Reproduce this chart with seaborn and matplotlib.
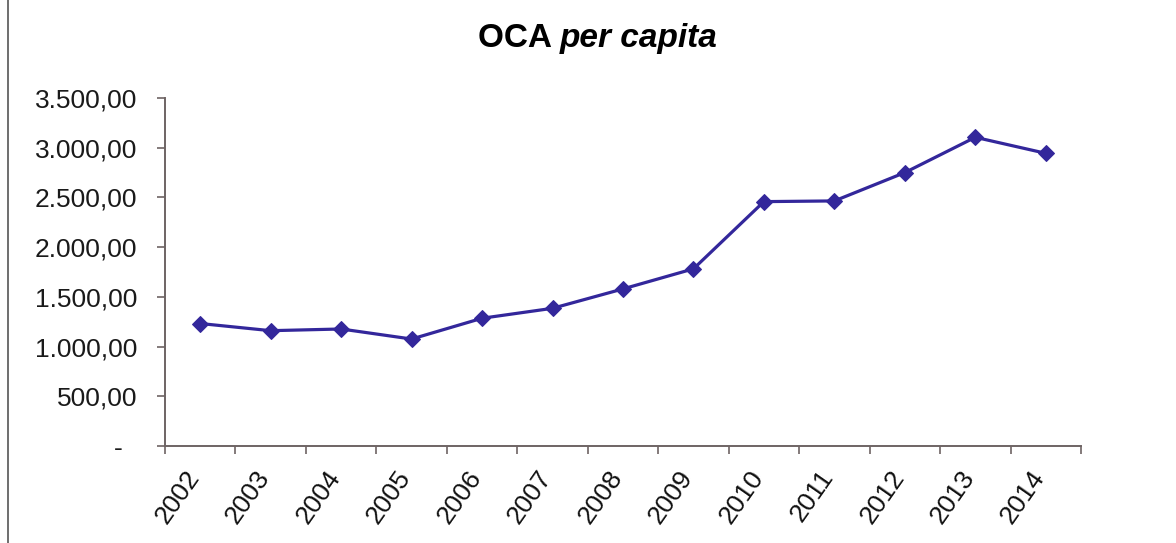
import numpy as np
import pandas as pd
import seaborn as sns
import matplotlib.pyplot as plt
from matplotlib.ticker import FixedLocator, FuncFormatter
from matplotlib.lines import Line2D

sns.set_theme(style="white")
plt.rcParams['font.family'] = ['Liberation Sans', 'DejaVu Sans']

years = ['2002', '2003', '2004', '2005', '2006', '2007', '2008',
         '2009', '2010', '2011', '2012', '2013', '2014']
oca_per_capita = [1232, 1160, 1177, 1076, 1285, 1385, 1580,
                  1782, 2458, 2465, 2750, 3105, 2944]
y_ticks = [0, 500, 1000, 1500, 2000, 2500, 3000, 3500]

df = pd.DataFrame({'Ano': years, 'OCA': oca_per_capita})


def br_fmt(v, pos):
    # 3500 -> 3.500,00 ; zero shown as a dash (accounting style)
    if v == 0:
        return '-  '
    s = f'{v:,.2f}'
    return s.replace(',', 'X').replace('.', ',').replace('X', '.')


fig = plt.figure(figsize=(11.76, 5.43), dpi=100)
ax = fig.add_axes([0.1403, 0.1786, 0.7789, 0.6409])

sns.lineplot(data=df, x='Ano', y='OCA', ax=ax, color='#33279b',
             marker='D', markersize=8.5, linewidth=2.3,
             markeredgecolor='#33279b', sort=False)

ax.set_xlim(-0.5, len(years) - 0.5)
ax.set_ylim(0, 3500)
ax.yaxis.set_major_locator(FixedLocator(y_ticks))
ax.yaxis.set_major_formatter(FuncFormatter(br_fmt))

ax.set_xticks(range(len(years)))
ax.set_xticklabels(years, rotation=55, ha='right', va='baseline',
                   rotation_mode='anchor')
ax.set_xticks(np.arange(-0.5, len(years)), minor=True)

ax.tick_params(axis='y', which='major', left=True, length=6, width=1.2,
               color='#6e6464', labelsize=19, pad=14, labelcolor='#1a1a1a')
ax.tick_params(axis='x', which='major', bottom=False, length=0,
               labelsize=19, pad=22, labelcolor='#111111')
ax.tick_params(axis='x', which='minor', bottom=True, length=6, width=1.2,
               color='#6e6464')

for side in ['top', 'right']:
    ax.spines[side].set_visible(False)
for side in ['left', 'bottom']:
    ax.spines[side].set_color('#6e6464')
    ax.spines[side].set_linewidth(1.4)

ax.set_xlabel('')
ax.set_ylabel('')

fig.text(0.476, 0.93, 'OCA ', fontsize=24, fontweight='bold', ha='right',
         va='center', color='black')
fig.text(0.476, 0.93, 'per capita', fontsize=24, fontweight='bold',
         style='italic', ha='left', va='center', color='black')

fig.add_artist(Line2D([0.0068, 0.0068], [0, 1], color='#555555', linewidth=1.2))

fig.savefig('out.png', dpi=100, facecolor='white')
